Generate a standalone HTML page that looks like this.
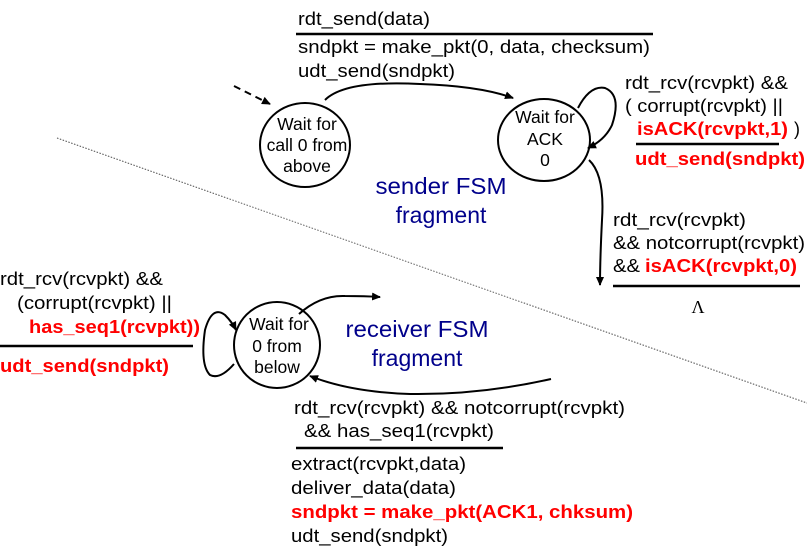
<!DOCTYPE html>
<html><head><meta charset="utf-8"><style>
html,body{margin:0;padding:0;background:#fff;width:807px;height:552px;overflow:hidden}
svg text{font-family:"Liberation Sans",Arial,sans-serif;font-size:18px;fill:#000}
.r{fill:#f00 !important;font-weight:bold}
.b{fill:#00008b !important;font-size:23px}
.c{font-size:17.5px !important}
</style></head><body>
<svg width="807" height="552" viewBox="0 0 807 552" xmlns="http://www.w3.org/2000/svg">
<defs><marker id="a" markerWidth="10" markerHeight="10" refX="8" refY="5" orient="auto" markerUnits="userSpaceOnUse"><path d="M0,1 L9,5 L0,9 Z" fill="#000"/></marker></defs>
<line x1="57" y1="138" x2="807" y2="403" stroke="#555" stroke-width="1" stroke-dasharray="1.5,1.5"/>
<text x="298" y="25" textLength="132" lengthAdjust="spacingAndGlyphs">rdt_send(data)</text>
<line x1="296" y1="34" x2="653" y2="34" stroke="#000" stroke-width="2.5"/>
<text x="298" y="53" textLength="352" lengthAdjust="spacingAndGlyphs">sndpkt = make_pkt(0, data, checksum)</text>
<text x="298" y="77" textLength="157" lengthAdjust="spacingAndGlyphs">udt_send(sndpkt)</text>
<ellipse cx="305" cy="145" rx="45" ry="42" fill="#fff" stroke="#000" stroke-width="2"/>
<text x="307" y="130" text-anchor="middle" class="c">Wait for</text>
<text x="307" y="151" text-anchor="middle" class="c">call 0 from</text>
<text x="307" y="172" text-anchor="middle" class="c">above</text>
<ellipse cx="544" cy="140" rx="46" ry="41" fill="#fff" stroke="#000" stroke-width="2"/>
<text x="545" y="123" text-anchor="middle" class="c">Wait for</text>
<text x="545" y="145" text-anchor="middle" class="c">ACK</text>
<text x="545" y="166" text-anchor="middle" class="c">0</text>
<line x1="234" y1="86" x2="270" y2="104" stroke="#000" stroke-width="2" stroke-dasharray="7,5" marker-end="url(#a)"/>
<path d="M325,100 Q345,80 420,84 Q480,86 513,98" fill="none" stroke="#000" stroke-width="2" marker-end="url(#a)"/>
<path d="M578,108 Q590,85 605,88 Q622,95 612,125 Q605,140 588,148" fill="none" stroke="#000" stroke-width="2" marker-end="url(#a)"/>
<path d="M589,160 Q605,175 602,220 Q600,260 600,285" fill="none" stroke="#000" stroke-width="2" marker-end="url(#a)"/>
<text x="625" y="89" textLength="163" lengthAdjust="spacingAndGlyphs">rdt_rcv(rcvpkt) &amp;&amp;</text>
<text x="625" y="112" textLength="158" lengthAdjust="spacingAndGlyphs">( corrupt(rcvpkt) ||</text>
<text x="637" y="135" class="r" textLength="151" lengthAdjust="spacingAndGlyphs">isACK(rcvpkt,1)</text><text x="794" y="135">)</text>
<line x1="636" y1="144" x2="779" y2="144" stroke="#000" stroke-width="2.5"/>
<text x="635" y="165" class="r" textLength="170" lengthAdjust="spacingAndGlyphs">udt_send(sndpkt)</text>
<text x="613" y="226" textLength="133" lengthAdjust="spacingAndGlyphs">rdt_rcv(rcvpkt)</text>
<text x="613" y="249" textLength="192" lengthAdjust="spacingAndGlyphs">&amp;&amp; notcorrupt(rcvpkt)</text>
<text x="613" y="272" textLength="27" lengthAdjust="spacingAndGlyphs">&amp;&amp;</text><text x="645" y="272" class="r" textLength="152" lengthAdjust="spacingAndGlyphs">isACK(rcvpkt,0)</text>
<line x1="613" y1="286" x2="800" y2="286" stroke="#000" stroke-width="2.5"/>
<text x="698" y="313" text-anchor="middle" style="font-family:'Liberation Serif',serif">Λ</text>
<text x="441" y="194" text-anchor="middle" class="b" textLength="131" lengthAdjust="spacingAndGlyphs">sender FSM</text>
<text x="441" y="223" text-anchor="middle" class="b">fragment</text>
<ellipse cx="277" cy="345" rx="43" ry="43" fill="#fff" stroke="#000" stroke-width="2"/>
<text x="279" y="330" text-anchor="middle" class="c">Wait for</text>
<text x="277" y="352" text-anchor="middle" class="c">0 from</text>
<text x="277" y="373" text-anchor="middle" class="c">below</text>
<text x="417" y="337" text-anchor="middle" class="b" textLength="143" lengthAdjust="spacingAndGlyphs">receiver FSM</text>
<text x="417" y="366" text-anchor="middle" class="b">fragment</text>
<path d="M299,314 Q320,295 345,296 Q365,296 380,297" fill="none" stroke="#000" stroke-width="2" marker-end="url(#a)"/>
<path d="M551,379 Q480,395 410,394 Q350,392 310,376" fill="none" stroke="#000" stroke-width="2" marker-end="url(#a)"/>
<path d="M234,364 Q220,380 210,375 Q200,365 205,330 Q212,305 225,315 Q232,322 236,330" fill="none" stroke="#000" stroke-width="2" marker-end="url(#a)"/>
<text x="0" y="285" textLength="163" lengthAdjust="spacingAndGlyphs">rdt_rcv(rcvpkt) &amp;&amp;</text>
<text x="17" y="309" textLength="155" lengthAdjust="spacingAndGlyphs">(corrupt(rcvpkt) ||</text>
<text x="29" y="333" class="r" textLength="171" lengthAdjust="spacingAndGlyphs">has_seq1(rcvpkt))</text>
<line x1="0" y1="346" x2="193" y2="346" stroke="#000" stroke-width="2.5"/>
<text x="0" y="372" class="r" textLength="169" lengthAdjust="spacingAndGlyphs">udt_send(sndpkt)</text>
<text x="294" y="414" textLength="331" lengthAdjust="spacingAndGlyphs">rdt_rcv(rcvpkt) &amp;&amp; notcorrupt(rcvpkt)</text>
<text x="304" y="437" textLength="190" lengthAdjust="spacingAndGlyphs">&amp;&amp; has_seq1(rcvpkt)</text>
<line x1="296" y1="448" x2="503" y2="448" stroke="#000" stroke-width="2.5"/>
<text x="291" y="470" textLength="175" lengthAdjust="spacingAndGlyphs">extract(rcvpkt,data)</text>
<text x="291" y="494" textLength="165" lengthAdjust="spacingAndGlyphs">deliver_data(data)</text>
<text x="291" y="518" class="r" textLength="342" lengthAdjust="spacingAndGlyphs">sndpkt = make_pkt(ACK1, chksum)</text>
<text x="291" y="542" textLength="157" lengthAdjust="spacingAndGlyphs">udt_send(sndpkt)</text>
</svg>
</body></html>
